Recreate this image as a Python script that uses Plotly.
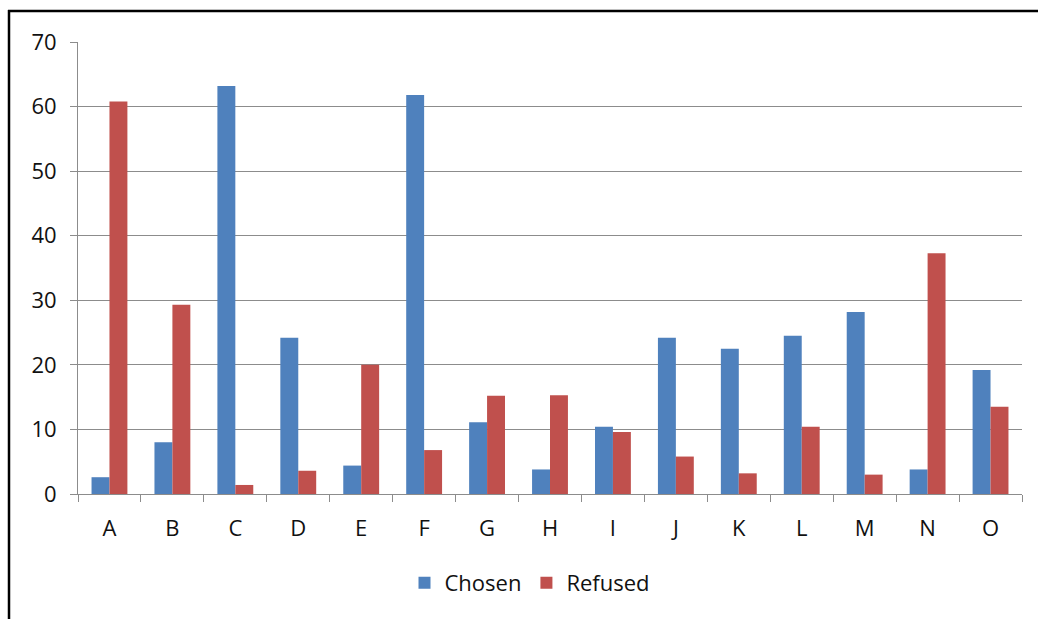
import plotly.graph_objects as go

categories = ["A", "B", "C", "D", "E", "F", "G", "H", "I", "J", "K", "L", "M", "N", "O"]
chosen = [2.6, 8.0, 63.2, 24.2, 4.4, 61.8, 11.1, 3.8, 10.4, 24.2, 22.5, 24.5, 28.2, 3.8, 19.2]
refused = [60.8, 29.3, 1.4, 3.6, 20.0, 6.8, 15.2, 15.3, 9.6, 5.8, 3.2, 10.4, 3.0, 37.3, 13.5]
y_ticks = [0, 10, 20, 30, 40, 50, 60, 70]

W, H = 1038, 619
L, R, T, B = 78, 16, 42, 125
pw, ph = W - L - R, H - T - B

def px_x(x):
    return (x - L) / pw

def px_y(y):
    return (H - B - y) / ph

FONT = "Open Sans"
TEXT = "#111111"
GRID = "#8c8c8c"
FS = 22

fig = go.Figure()
fig.add_trace(go.Bar(name="Chosen", x=categories, y=chosen,
                     marker=dict(color="#4F81BD", line=dict(width=0))))
fig.add_trace(go.Bar(name="Refused", x=categories, y=refused,
                     marker=dict(color="#C0504D", line=dict(width=0))))

# outer frame (top and left edges visible)
fig.add_shape(type="line", xref="paper", yref="paper",
              x0=px_x(8), x1=px_x(W + 5), y0=px_y(11), y1=px_y(11),
              line=dict(color="black", width=2.5))
fig.add_shape(type="line", xref="paper", yref="paper",
              x0=px_x(9), x1=px_x(9), y0=px_y(10), y1=px_y(H + 5),
              line=dict(color="black", width=2.5))

fig.update_layout(
    width=W, height=H,
    margin=dict(l=L, r=R, t=T, b=B),
    paper_bgcolor="white", plot_bgcolor="white",
    barmode="group", bargap=0.43, bargroupgap=0,
    font=dict(family=FONT, size=FS, color=TEXT),
    showlegend=True,
    legend=dict(orientation="h", x=px_x(530), xanchor="center",
                y=px_y(583), yanchor="middle",
                font=dict(family=FONT, size=FS, color=TEXT),
                itemwidth=30, tracegroupgap=0),
    xaxis=dict(type="category", showline=True, linecolor=GRID, linewidth=1,
               ticks="outside", tickson="boundaries", ticklen=7, tickcolor=GRID,
               ticklabelstandoff=15, showgrid=False,
               tickfont=dict(family=FONT, size=FS, color=TEXT)),
    yaxis=dict(range=[0, 70], tickvals=y_ticks, showline=True, linecolor=GRID,
               linewidth=1, ticks="outside", ticklen=7, tickcolor=GRID,
               showgrid=True, gridcolor=GRID, gridwidth=1, zeroline=False,
               ticklabelstandoff=9,
               tickfont=dict(family=FONT, size=FS, color=TEXT)),
)

fig.write_html("out.html")
